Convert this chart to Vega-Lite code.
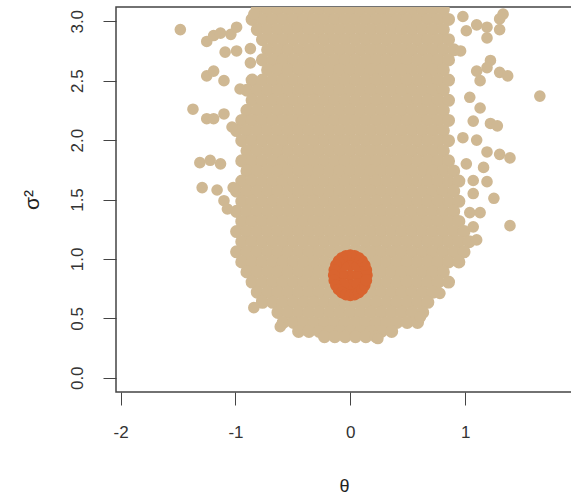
{
"$schema": "https://vega.github.io/schema/vega-lite/v6.json",
"width": 456, "height": 385,
"autosize": "none",
"padding": {"left": 116, "top": 7, "right": 0, "bottom": 107},
"background": "white",
"config": {"view": {"stroke": "#444", "strokeWidth": 1.5}},
"datasets": {
"posterior": [
{"theta":-0.81,"sigma2":3.1},{"theta":-0.72,"sigma2":3.1},{"theta":-0.63,"sigma2":3.1},{"theta":-0.54,"sigma2":3.1},{"theta":-0.45,"sigma2":3.1},{"theta":-0.36,"sigma2":3.1},{"theta":-0.27,"sigma2":3.1},{"theta":-0.18,"sigma2":3.1},{"theta":-0.09,"sigma2":3.1},{"theta":0,"sigma2":3.1},{"theta":0.09,"sigma2":3.1},{"theta":0.18,"sigma2":3.1},{"theta":0.27,"sigma2":3.1},{"theta":0.36,"sigma2":3.1},{"theta":0.45,"sigma2":3.1},{"theta":0.54,"sigma2":3.1},{"theta":0.63,"sigma2":3.1},{"theta":0.72,"sigma2":3.1},{"theta":0.81,"sigma2":3.1},
{"theta":-0.855,"sigma2":3.015},{"theta":-0.765,"sigma2":3.015},{"theta":-0.675,"sigma2":3.015},{"theta":-0.585,"sigma2":3.015},{"theta":-0.495,"sigma2":3.015},{"theta":-0.405,"sigma2":3.015},{"theta":-0.315,"sigma2":3.015},{"theta":-0.225,"sigma2":3.015},{"theta":-0.135,"sigma2":3.015},{"theta":-0.045,"sigma2":3.015},{"theta":0.045,"sigma2":3.015},{"theta":0.135,"sigma2":3.015},{"theta":0.225,"sigma2":3.015},{"theta":0.315,"sigma2":3.015},{"theta":0.405,"sigma2":3.015},{"theta":0.495,"sigma2":3.015},{"theta":0.585,"sigma2":3.015},{"theta":0.675,"sigma2":3.015},{"theta":0.765,"sigma2":3.015},{"theta":0.855,"sigma2":3.015},
{"theta":-0.81,"sigma2":2.93},{"theta":-0.72,"sigma2":2.93},{"theta":-0.63,"sigma2":2.93},{"theta":-0.54,"sigma2":2.93},{"theta":-0.45,"sigma2":2.93},{"theta":-0.36,"sigma2":2.93},{"theta":-0.27,"sigma2":2.93},{"theta":-0.18,"sigma2":2.93},{"theta":-0.09,"sigma2":2.93},{"theta":0,"sigma2":2.93},{"theta":0.09,"sigma2":2.93},{"theta":0.18,"sigma2":2.93},{"theta":0.27,"sigma2":2.93},{"theta":0.36,"sigma2":2.93},{"theta":0.45,"sigma2":2.93},{"theta":0.54,"sigma2":2.93},{"theta":0.63,"sigma2":2.93},{"theta":0.72,"sigma2":2.93},{"theta":0.81,"sigma2":2.93},
{"theta":-0.765,"sigma2":2.845},{"theta":-0.675,"sigma2":2.845},{"theta":-0.585,"sigma2":2.845},{"theta":-0.495,"sigma2":2.845},{"theta":-0.405,"sigma2":2.845},{"theta":-0.315,"sigma2":2.845},{"theta":-0.225,"sigma2":2.845},{"theta":-0.135,"sigma2":2.845},{"theta":-0.045,"sigma2":2.845},{"theta":0.045,"sigma2":2.845},{"theta":0.135,"sigma2":2.845},{"theta":0.225,"sigma2":2.845},{"theta":0.315,"sigma2":2.845},{"theta":0.405,"sigma2":2.845},{"theta":0.495,"sigma2":2.845},{"theta":0.585,"sigma2":2.845},{"theta":0.675,"sigma2":2.845},{"theta":0.765,"sigma2":2.845},{"theta":0.855,"sigma2":2.845},
{"theta":-0.72,"sigma2":2.76},{"theta":-0.63,"sigma2":2.76},{"theta":-0.54,"sigma2":2.76},{"theta":-0.45,"sigma2":2.76},{"theta":-0.36,"sigma2":2.76},{"theta":-0.27,"sigma2":2.76},{"theta":-0.18,"sigma2":2.76},{"theta":-0.09,"sigma2":2.76},{"theta":0,"sigma2":2.76},{"theta":0.09,"sigma2":2.76},{"theta":0.18,"sigma2":2.76},{"theta":0.27,"sigma2":2.76},{"theta":0.36,"sigma2":2.76},{"theta":0.45,"sigma2":2.76},{"theta":0.54,"sigma2":2.76},{"theta":0.63,"sigma2":2.76},{"theta":0.72,"sigma2":2.76},{"theta":0.81,"sigma2":2.76},{"theta":0.9,"sigma2":2.76},
{"theta":-0.765,"sigma2":2.675},{"theta":-0.675,"sigma2":2.675},{"theta":-0.585,"sigma2":2.675},{"theta":-0.495,"sigma2":2.675},{"theta":-0.405,"sigma2":2.675},{"theta":-0.315,"sigma2":2.675},{"theta":-0.225,"sigma2":2.675},{"theta":-0.135,"sigma2":2.675},{"theta":-0.045,"sigma2":2.675},{"theta":0.045,"sigma2":2.675},{"theta":0.135,"sigma2":2.675},{"theta":0.225,"sigma2":2.675},{"theta":0.315,"sigma2":2.675},{"theta":0.405,"sigma2":2.675},{"theta":0.495,"sigma2":2.675},{"theta":0.585,"sigma2":2.675},{"theta":0.675,"sigma2":2.675},{"theta":0.765,"sigma2":2.675},{"theta":0.855,"sigma2":2.675},
{"theta":-0.72,"sigma2":2.59},{"theta":-0.63,"sigma2":2.59},{"theta":-0.54,"sigma2":2.59},{"theta":-0.45,"sigma2":2.59},{"theta":-0.36,"sigma2":2.59},{"theta":-0.27,"sigma2":2.59},{"theta":-0.18,"sigma2":2.59},{"theta":-0.09,"sigma2":2.59},{"theta":0,"sigma2":2.59},{"theta":0.09,"sigma2":2.59},{"theta":0.18,"sigma2":2.59},{"theta":0.27,"sigma2":2.59},{"theta":0.36,"sigma2":2.59},{"theta":0.45,"sigma2":2.59},{"theta":0.54,"sigma2":2.59},{"theta":0.63,"sigma2":2.59},{"theta":0.72,"sigma2":2.59},{"theta":0.81,"sigma2":2.59},
{"theta":-0.855,"sigma2":2.505},{"theta":-0.765,"sigma2":2.505},{"theta":-0.675,"sigma2":2.505},{"theta":-0.585,"sigma2":2.505},{"theta":-0.495,"sigma2":2.505},{"theta":-0.405,"sigma2":2.505},{"theta":-0.315,"sigma2":2.505},{"theta":-0.225,"sigma2":2.505},{"theta":-0.135,"sigma2":2.505},{"theta":-0.045,"sigma2":2.505},{"theta":0.045,"sigma2":2.505},{"theta":0.135,"sigma2":2.505},{"theta":0.225,"sigma2":2.505},{"theta":0.315,"sigma2":2.505},{"theta":0.405,"sigma2":2.505},{"theta":0.495,"sigma2":2.505},{"theta":0.585,"sigma2":2.505},{"theta":0.675,"sigma2":2.505},{"theta":0.765,"sigma2":2.505},{"theta":0.855,"sigma2":2.505},
{"theta":-0.9,"sigma2":2.42},{"theta":-0.81,"sigma2":2.42},{"theta":-0.72,"sigma2":2.42},{"theta":-0.63,"sigma2":2.42},{"theta":-0.54,"sigma2":2.42},{"theta":-0.45,"sigma2":2.42},{"theta":-0.36,"sigma2":2.42},{"theta":-0.27,"sigma2":2.42},{"theta":-0.18,"sigma2":2.42},{"theta":-0.09,"sigma2":2.42},{"theta":0,"sigma2":2.42},{"theta":0.09,"sigma2":2.42},{"theta":0.18,"sigma2":2.42},{"theta":0.27,"sigma2":2.42},{"theta":0.36,"sigma2":2.42},{"theta":0.45,"sigma2":2.42},{"theta":0.54,"sigma2":2.42},{"theta":0.63,"sigma2":2.42},{"theta":0.72,"sigma2":2.42},{"theta":0.81,"sigma2":2.42},
{"theta":-0.855,"sigma2":2.335},{"theta":-0.765,"sigma2":2.335},{"theta":-0.675,"sigma2":2.335},{"theta":-0.585,"sigma2":2.335},{"theta":-0.495,"sigma2":2.335},{"theta":-0.405,"sigma2":2.335},{"theta":-0.315,"sigma2":2.335},{"theta":-0.225,"sigma2":2.335},{"theta":-0.135,"sigma2":2.335},{"theta":-0.045,"sigma2":2.335},{"theta":0.045,"sigma2":2.335},{"theta":0.135,"sigma2":2.335},{"theta":0.225,"sigma2":2.335},{"theta":0.315,"sigma2":2.335},{"theta":0.405,"sigma2":2.335},{"theta":0.495,"sigma2":2.335},{"theta":0.585,"sigma2":2.335},{"theta":0.675,"sigma2":2.335},{"theta":0.765,"sigma2":2.335},{"theta":0.855,"sigma2":2.335},
{"theta":-0.9,"sigma2":2.25},{"theta":-0.81,"sigma2":2.25},{"theta":-0.72,"sigma2":2.25},{"theta":-0.63,"sigma2":2.25},{"theta":-0.54,"sigma2":2.25},{"theta":-0.45,"sigma2":2.25},{"theta":-0.36,"sigma2":2.25},{"theta":-0.27,"sigma2":2.25},{"theta":-0.18,"sigma2":2.25},{"theta":-0.09,"sigma2":2.25},{"theta":0,"sigma2":2.25},{"theta":0.09,"sigma2":2.25},{"theta":0.18,"sigma2":2.25},{"theta":0.27,"sigma2":2.25},{"theta":0.36,"sigma2":2.25},{"theta":0.45,"sigma2":2.25},{"theta":0.54,"sigma2":2.25},{"theta":0.63,"sigma2":2.25},{"theta":0.72,"sigma2":2.25},{"theta":0.81,"sigma2":2.25},
{"theta":-0.945,"sigma2":2.165},{"theta":-0.855,"sigma2":2.165},{"theta":-0.765,"sigma2":2.165},{"theta":-0.675,"sigma2":2.165},{"theta":-0.585,"sigma2":2.165},{"theta":-0.495,"sigma2":2.165},{"theta":-0.405,"sigma2":2.165},{"theta":-0.315,"sigma2":2.165},{"theta":-0.225,"sigma2":2.165},{"theta":-0.135,"sigma2":2.165},{"theta":-0.045,"sigma2":2.165},{"theta":0.045,"sigma2":2.165},{"theta":0.135,"sigma2":2.165},{"theta":0.225,"sigma2":2.165},{"theta":0.315,"sigma2":2.165},{"theta":0.405,"sigma2":2.165},{"theta":0.495,"sigma2":2.165},{"theta":0.585,"sigma2":2.165},{"theta":0.675,"sigma2":2.165},{"theta":0.765,"sigma2":2.165},{"theta":0.855,"sigma2":2.165},
{"theta":-0.99,"sigma2":2.08},{"theta":-0.9,"sigma2":2.08},{"theta":-0.81,"sigma2":2.08},{"theta":-0.72,"sigma2":2.08},{"theta":-0.63,"sigma2":2.08},{"theta":-0.54,"sigma2":2.08},{"theta":-0.45,"sigma2":2.08},{"theta":-0.36,"sigma2":2.08},{"theta":-0.27,"sigma2":2.08},{"theta":-0.18,"sigma2":2.08},{"theta":-0.09,"sigma2":2.08},{"theta":0,"sigma2":2.08},{"theta":0.09,"sigma2":2.08},{"theta":0.18,"sigma2":2.08},{"theta":0.27,"sigma2":2.08},{"theta":0.36,"sigma2":2.08},{"theta":0.45,"sigma2":2.08},{"theta":0.54,"sigma2":2.08},{"theta":0.63,"sigma2":2.08},{"theta":0.72,"sigma2":2.08},{"theta":0.81,"sigma2":2.08},
{"theta":-0.945,"sigma2":1.995},{"theta":-0.855,"sigma2":1.995},{"theta":-0.765,"sigma2":1.995},{"theta":-0.675,"sigma2":1.995},{"theta":-0.585,"sigma2":1.995},{"theta":-0.495,"sigma2":1.995},{"theta":-0.405,"sigma2":1.995},{"theta":-0.315,"sigma2":1.995},{"theta":-0.225,"sigma2":1.995},{"theta":-0.135,"sigma2":1.995},{"theta":-0.045,"sigma2":1.995},{"theta":0.045,"sigma2":1.995},{"theta":0.135,"sigma2":1.995},{"theta":0.225,"sigma2":1.995},{"theta":0.315,"sigma2":1.995},{"theta":0.405,"sigma2":1.995},{"theta":0.495,"sigma2":1.995},{"theta":0.585,"sigma2":1.995},{"theta":0.675,"sigma2":1.995},{"theta":0.765,"sigma2":1.995},{"theta":0.855,"sigma2":1.995},
{"theta":-0.9,"sigma2":1.91},{"theta":-0.81,"sigma2":1.91},{"theta":-0.72,"sigma2":1.91},{"theta":-0.63,"sigma2":1.91},{"theta":-0.54,"sigma2":1.91},{"theta":-0.45,"sigma2":1.91},{"theta":-0.36,"sigma2":1.91},{"theta":-0.27,"sigma2":1.91},{"theta":-0.18,"sigma2":1.91},{"theta":-0.09,"sigma2":1.91},{"theta":0,"sigma2":1.91},{"theta":0.09,"sigma2":1.91},{"theta":0.18,"sigma2":1.91},{"theta":0.27,"sigma2":1.91},{"theta":0.36,"sigma2":1.91},{"theta":0.45,"sigma2":1.91},{"theta":0.54,"sigma2":1.91},{"theta":0.63,"sigma2":1.91},{"theta":0.72,"sigma2":1.91},{"theta":0.81,"sigma2":1.91},
{"theta":-0.945,"sigma2":1.825},{"theta":-0.855,"sigma2":1.825},{"theta":-0.765,"sigma2":1.825},{"theta":-0.675,"sigma2":1.825},{"theta":-0.585,"sigma2":1.825},{"theta":-0.495,"sigma2":1.825},{"theta":-0.405,"sigma2":1.825},{"theta":-0.315,"sigma2":1.825},{"theta":-0.225,"sigma2":1.825},{"theta":-0.135,"sigma2":1.825},{"theta":-0.045,"sigma2":1.825},{"theta":0.045,"sigma2":1.825},{"theta":0.135,"sigma2":1.825},{"theta":0.225,"sigma2":1.825},{"theta":0.315,"sigma2":1.825},{"theta":0.405,"sigma2":1.825},{"theta":0.495,"sigma2":1.825},{"theta":0.585,"sigma2":1.825},{"theta":0.675,"sigma2":1.825},{"theta":0.765,"sigma2":1.825},{"theta":0.855,"sigma2":1.825},
{"theta":-0.9,"sigma2":1.74},{"theta":-0.81,"sigma2":1.74},{"theta":-0.72,"sigma2":1.74},{"theta":-0.63,"sigma2":1.74},{"theta":-0.54,"sigma2":1.74},{"theta":-0.45,"sigma2":1.74},{"theta":-0.36,"sigma2":1.74},{"theta":-0.27,"sigma2":1.74},{"theta":-0.18,"sigma2":1.74},{"theta":-0.09,"sigma2":1.74},{"theta":0,"sigma2":1.74},{"theta":0.09,"sigma2":1.74},{"theta":0.18,"sigma2":1.74},{"theta":0.27,"sigma2":1.74},{"theta":0.36,"sigma2":1.74},{"theta":0.45,"sigma2":1.74},{"theta":0.54,"sigma2":1.74},{"theta":0.63,"sigma2":1.74},{"theta":0.72,"sigma2":1.74},{"theta":0.81,"sigma2":1.74},{"theta":0.9,"sigma2":1.74},
{"theta":-0.945,"sigma2":1.655},{"theta":-0.855,"sigma2":1.655},{"theta":-0.765,"sigma2":1.655},{"theta":-0.675,"sigma2":1.655},{"theta":-0.585,"sigma2":1.655},{"theta":-0.495,"sigma2":1.655},{"theta":-0.405,"sigma2":1.655},{"theta":-0.315,"sigma2":1.655},{"theta":-0.225,"sigma2":1.655},{"theta":-0.135,"sigma2":1.655},{"theta":-0.045,"sigma2":1.655},{"theta":0.045,"sigma2":1.655},{"theta":0.135,"sigma2":1.655},{"theta":0.225,"sigma2":1.655},{"theta":0.315,"sigma2":1.655},{"theta":0.405,"sigma2":1.655},{"theta":0.495,"sigma2":1.655},{"theta":0.585,"sigma2":1.655},{"theta":0.675,"sigma2":1.655},{"theta":0.765,"sigma2":1.655},{"theta":0.855,"sigma2":1.655},{"theta":0.945,"sigma2":1.655},
{"theta":-0.99,"sigma2":1.57},{"theta":-0.9,"sigma2":1.57},{"theta":-0.81,"sigma2":1.57},{"theta":-0.72,"sigma2":1.57},{"theta":-0.63,"sigma2":1.57},{"theta":-0.54,"sigma2":1.57},{"theta":-0.45,"sigma2":1.57},{"theta":-0.36,"sigma2":1.57},{"theta":-0.27,"sigma2":1.57},{"theta":-0.18,"sigma2":1.57},{"theta":-0.09,"sigma2":1.57},{"theta":0,"sigma2":1.57},{"theta":0.09,"sigma2":1.57},{"theta":0.18,"sigma2":1.57},{"theta":0.27,"sigma2":1.57},{"theta":0.36,"sigma2":1.57},{"theta":0.45,"sigma2":1.57},{"theta":0.54,"sigma2":1.57},{"theta":0.63,"sigma2":1.57},{"theta":0.72,"sigma2":1.57},{"theta":0.81,"sigma2":1.57},{"theta":0.9,"sigma2":1.57},
{"theta":-0.945,"sigma2":1.485},{"theta":-0.855,"sigma2":1.485},{"theta":-0.765,"sigma2":1.485},{"theta":-0.675,"sigma2":1.485},{"theta":-0.585,"sigma2":1.485},{"theta":-0.495,"sigma2":1.485},{"theta":-0.405,"sigma2":1.485},{"theta":-0.315,"sigma2":1.485},{"theta":-0.225,"sigma2":1.485},{"theta":-0.135,"sigma2":1.485},{"theta":-0.045,"sigma2":1.485},{"theta":0.045,"sigma2":1.485},{"theta":0.135,"sigma2":1.485},{"theta":0.225,"sigma2":1.485},{"theta":0.315,"sigma2":1.485},{"theta":0.405,"sigma2":1.485},{"theta":0.495,"sigma2":1.485},{"theta":0.585,"sigma2":1.485},{"theta":0.675,"sigma2":1.485},{"theta":0.765,"sigma2":1.485},{"theta":0.855,"sigma2":1.485},{"theta":0.945,"sigma2":1.485},
{"theta":-0.99,"sigma2":1.4},{"theta":-0.9,"sigma2":1.4},{"theta":-0.81,"sigma2":1.4},{"theta":-0.72,"sigma2":1.4},{"theta":-0.63,"sigma2":1.4},{"theta":-0.54,"sigma2":1.4},{"theta":-0.45,"sigma2":1.4},{"theta":-0.36,"sigma2":1.4},{"theta":-0.27,"sigma2":1.4},{"theta":-0.18,"sigma2":1.4},{"theta":-0.09,"sigma2":1.4},{"theta":0,"sigma2":1.4},{"theta":0.09,"sigma2":1.4},{"theta":0.18,"sigma2":1.4},{"theta":0.27,"sigma2":1.4},{"theta":0.36,"sigma2":1.4},{"theta":0.45,"sigma2":1.4},{"theta":0.54,"sigma2":1.4},{"theta":0.63,"sigma2":1.4},{"theta":0.72,"sigma2":1.4},{"theta":0.81,"sigma2":1.4},{"theta":0.9,"sigma2":1.4},
{"theta":-0.945,"sigma2":1.315},{"theta":-0.855,"sigma2":1.315},{"theta":-0.765,"sigma2":1.315},{"theta":-0.675,"sigma2":1.315},{"theta":-0.585,"sigma2":1.315},{"theta":-0.495,"sigma2":1.315},{"theta":-0.405,"sigma2":1.315},{"theta":-0.315,"sigma2":1.315},{"theta":-0.225,"sigma2":1.315},{"theta":-0.135,"sigma2":1.315},{"theta":-0.045,"sigma2":1.315},{"theta":0.045,"sigma2":1.315},{"theta":0.135,"sigma2":1.315},{"theta":0.225,"sigma2":1.315},{"theta":0.315,"sigma2":1.315},{"theta":0.405,"sigma2":1.315},{"theta":0.495,"sigma2":1.315},{"theta":0.585,"sigma2":1.315},{"theta":0.675,"sigma2":1.315},{"theta":0.765,"sigma2":1.315},{"theta":0.855,"sigma2":1.315},{"theta":0.945,"sigma2":1.315},
{"theta":-0.99,"sigma2":1.23},{"theta":-0.9,"sigma2":1.23},{"theta":-0.81,"sigma2":1.23},{"theta":-0.72,"sigma2":1.23},{"theta":-0.63,"sigma2":1.23},{"theta":-0.54,"sigma2":1.23},{"theta":-0.45,"sigma2":1.23},{"theta":-0.36,"sigma2":1.23},{"theta":-0.27,"sigma2":1.23},{"theta":-0.18,"sigma2":1.23},{"theta":-0.09,"sigma2":1.23},{"theta":0,"sigma2":1.23},{"theta":0.09,"sigma2":1.23},{"theta":0.18,"sigma2":1.23},{"theta":0.27,"sigma2":1.23},{"theta":0.36,"sigma2":1.23},{"theta":0.45,"sigma2":1.23},{"theta":0.54,"sigma2":1.23},{"theta":0.63,"sigma2":1.23},{"theta":0.72,"sigma2":1.23},{"theta":0.81,"sigma2":1.23},{"theta":0.9,"sigma2":1.23},{"theta":0.99,"sigma2":1.23},
{"theta":-0.945,"sigma2":1.145},{"theta":-0.855,"sigma2":1.145},{"theta":-0.765,"sigma2":1.145},{"theta":-0.675,"sigma2":1.145},{"theta":-0.585,"sigma2":1.145},{"theta":-0.495,"sigma2":1.145},{"theta":-0.405,"sigma2":1.145},{"theta":-0.315,"sigma2":1.145},{"theta":-0.225,"sigma2":1.145},{"theta":-0.135,"sigma2":1.145},{"theta":-0.045,"sigma2":1.145},{"theta":0.045,"sigma2":1.145},{"theta":0.135,"sigma2":1.145},{"theta":0.225,"sigma2":1.145},{"theta":0.315,"sigma2":1.145},{"theta":0.405,"sigma2":1.145},{"theta":0.495,"sigma2":1.145},{"theta":0.585,"sigma2":1.145},{"theta":0.675,"sigma2":1.145},{"theta":0.765,"sigma2":1.145},{"theta":0.855,"sigma2":1.145},{"theta":0.945,"sigma2":1.145},{"theta":1.035,"sigma2":1.145},
{"theta":-0.99,"sigma2":1.06},{"theta":-0.9,"sigma2":1.06},{"theta":-0.81,"sigma2":1.06},{"theta":-0.72,"sigma2":1.06},{"theta":-0.63,"sigma2":1.06},{"theta":-0.54,"sigma2":1.06},{"theta":-0.45,"sigma2":1.06},{"theta":-0.36,"sigma2":1.06},{"theta":-0.27,"sigma2":1.06},{"theta":-0.18,"sigma2":1.06},{"theta":-0.09,"sigma2":1.06},{"theta":0,"sigma2":1.06},{"theta":0.09,"sigma2":1.06},{"theta":0.18,"sigma2":1.06},{"theta":0.27,"sigma2":1.06},{"theta":0.36,"sigma2":1.06},{"theta":0.45,"sigma2":1.06},{"theta":0.54,"sigma2":1.06},{"theta":0.63,"sigma2":1.06},{"theta":0.72,"sigma2":1.06},{"theta":0.81,"sigma2":1.06},{"theta":0.9,"sigma2":1.06},{"theta":0.99,"sigma2":1.06},
{"theta":-0.945,"sigma2":0.975},{"theta":-0.855,"sigma2":0.975},{"theta":-0.765,"sigma2":0.975},{"theta":-0.675,"sigma2":0.975},{"theta":-0.585,"sigma2":0.975},{"theta":-0.495,"sigma2":0.975},{"theta":-0.405,"sigma2":0.975},{"theta":-0.315,"sigma2":0.975},{"theta":-0.225,"sigma2":0.975},{"theta":-0.135,"sigma2":0.975},{"theta":-0.045,"sigma2":0.975},{"theta":0.045,"sigma2":0.975},{"theta":0.135,"sigma2":0.975},{"theta":0.225,"sigma2":0.975},{"theta":0.315,"sigma2":0.975},{"theta":0.405,"sigma2":0.975},{"theta":0.495,"sigma2":0.975},{"theta":0.585,"sigma2":0.975},{"theta":0.675,"sigma2":0.975},{"theta":0.765,"sigma2":0.975},{"theta":0.855,"sigma2":0.975},{"theta":0.945,"sigma2":0.975},
{"theta":-0.9,"sigma2":0.89},{"theta":-0.81,"sigma2":0.89},{"theta":-0.72,"sigma2":0.89},{"theta":-0.63,"sigma2":0.89},{"theta":-0.54,"sigma2":0.89},{"theta":-0.45,"sigma2":0.89},{"theta":-0.36,"sigma2":0.89},{"theta":-0.27,"sigma2":0.89},{"theta":-0.18,"sigma2":0.89},{"theta":-0.09,"sigma2":0.89},{"theta":0,"sigma2":0.89},{"theta":0.09,"sigma2":0.89},{"theta":0.18,"sigma2":0.89},{"theta":0.27,"sigma2":0.89},{"theta":0.36,"sigma2":0.89},{"theta":0.45,"sigma2":0.89},{"theta":0.54,"sigma2":0.89},{"theta":0.63,"sigma2":0.89},{"theta":0.72,"sigma2":0.89},{"theta":0.81,"sigma2":0.89},
{"theta":-0.855,"sigma2":0.805},{"theta":-0.765,"sigma2":0.805},{"theta":-0.675,"sigma2":0.805},{"theta":-0.585,"sigma2":0.805},{"theta":-0.495,"sigma2":0.805},{"theta":-0.405,"sigma2":0.805},{"theta":-0.315,"sigma2":0.805},{"theta":-0.225,"sigma2":0.805},{"theta":-0.135,"sigma2":0.805},{"theta":-0.045,"sigma2":0.805},{"theta":0.045,"sigma2":0.805},{"theta":0.135,"sigma2":0.805},{"theta":0.225,"sigma2":0.805},{"theta":0.315,"sigma2":0.805},{"theta":0.405,"sigma2":0.805},{"theta":0.495,"sigma2":0.805},{"theta":0.585,"sigma2":0.805},{"theta":0.675,"sigma2":0.805},{"theta":0.765,"sigma2":0.805},{"theta":0.855,"sigma2":0.805},
{"theta":-0.81,"sigma2":0.72},{"theta":-0.72,"sigma2":0.72},{"theta":-0.63,"sigma2":0.72},{"theta":-0.54,"sigma2":0.72},{"theta":-0.45,"sigma2":0.72},{"theta":-0.36,"sigma2":0.72},{"theta":-0.27,"sigma2":0.72},{"theta":-0.18,"sigma2":0.72},{"theta":-0.09,"sigma2":0.72},{"theta":0,"sigma2":0.72},{"theta":0.09,"sigma2":0.72},{"theta":0.18,"sigma2":0.72},{"theta":0.27,"sigma2":0.72},{"theta":0.36,"sigma2":0.72},{"theta":0.45,"sigma2":0.72},{"theta":0.54,"sigma2":0.72},{"theta":0.63,"sigma2":0.72},{"theta":0.72,"sigma2":0.72},
{"theta":-0.765,"sigma2":0.635},{"theta":-0.675,"sigma2":0.635},{"theta":-0.585,"sigma2":0.635},{"theta":-0.495,"sigma2":0.635},{"theta":-0.405,"sigma2":0.635},{"theta":-0.315,"sigma2":0.635},{"theta":-0.225,"sigma2":0.635},{"theta":-0.135,"sigma2":0.635},{"theta":-0.045,"sigma2":0.635},{"theta":0.045,"sigma2":0.635},{"theta":0.135,"sigma2":0.635},{"theta":0.225,"sigma2":0.635},{"theta":0.315,"sigma2":0.635},{"theta":0.405,"sigma2":0.635},{"theta":0.495,"sigma2":0.635},{"theta":0.585,"sigma2":0.635},{"theta":0.675,"sigma2":0.635},
{"theta":-0.63,"sigma2":0.55},{"theta":-0.54,"sigma2":0.55},{"theta":-0.45,"sigma2":0.55},{"theta":-0.36,"sigma2":0.55},{"theta":-0.27,"sigma2":0.55},{"theta":-0.18,"sigma2":0.55},{"theta":-0.09,"sigma2":0.55},{"theta":0,"sigma2":0.55},{"theta":0.09,"sigma2":0.55},{"theta":0.18,"sigma2":0.55},{"theta":0.27,"sigma2":0.55},{"theta":0.36,"sigma2":0.55},{"theta":0.45,"sigma2":0.55},{"theta":0.54,"sigma2":0.55},{"theta":0.63,"sigma2":0.55},
{"theta":-0.585,"sigma2":0.465},{"theta":-0.495,"sigma2":0.465},{"theta":-0.405,"sigma2":0.465},{"theta":-0.315,"sigma2":0.465},{"theta":-0.225,"sigma2":0.465},{"theta":-0.135,"sigma2":0.465},{"theta":-0.045,"sigma2":0.465},{"theta":0.045,"sigma2":0.465},{"theta":0.135,"sigma2":0.465},{"theta":0.225,"sigma2":0.465},{"theta":0.315,"sigma2":0.465},{"theta":0.405,"sigma2":0.465},{"theta":0.495,"sigma2":0.465},{"theta":0.585,"sigma2":0.465},
{"theta":-0.45,"sigma2":0.39},{"theta":-0.36,"sigma2":0.39},{"theta":-0.27,"sigma2":0.39},{"theta":-0.18,"sigma2":0.39},{"theta":-0.09,"sigma2":0.39},{"theta":0,"sigma2":0.39},{"theta":0.09,"sigma2":0.39},{"theta":0.18,"sigma2":0.39},{"theta":0.27,"sigma2":0.39},{"theta":0.36,"sigma2":0.39},
{"theta":-0.225,"sigma2":0.345},{"theta":-0.135,"sigma2":0.345},{"theta":-0.045,"sigma2":0.345},{"theta":0.045,"sigma2":0.345},{"theta":0.135,"sigma2":0.345},{"theta":0.225,"sigma2":0.345}
],
"tail": [
{"theta":0.24,"sigma2":0.33},
{"theta":-1.48,"sigma2":2.93},{"theta":-1.37,"sigma2":2.26},{"theta":-1.31,"sigma2":1.81},{"theta":-1.25,"sigma2":2.83},{"theta":-1.19,"sigma2":2.88},{"theta":-1.13,"sigma2":2.9},{"theta":-1.04,"sigma2":2.89},{"theta":-0.99,"sigma2":2.95},{"theta":-0.84,"sigma2":3.06},
{"theta":-1.09,"sigma2":2.74},{"theta":-0.99,"sigma2":2.75},{"theta":-0.87,"sigma2":2.77},{"theta":-0.87,"sigma2":2.65},{"theta":-1.25,"sigma2":2.54},{"theta":-1.19,"sigma2":2.58},{"theta":-1.1,"sigma2":2.5},{"theta":-0.96,"sigma2":2.43},
{"theta":-1.25,"sigma2":2.18},{"theta":-1.19,"sigma2":2.18},{"theta":-1.1,"sigma2":2.22},{"theta":-1.03,"sigma2":2.11},{"theta":-1.22,"sigma2":1.83},{"theta":-1.13,"sigma2":1.8},{"theta":-1.16,"sigma2":1.58},{"theta":-1.1,"sigma2":1.49},{"theta":-1.07,"sigma2":1.42},{"theta":-1.02,"sigma2":1.6},{"theta":-1.29,"sigma2":1.6},
{"theta":-0.84,"sigma2":0.59},{"theta":-0.77,"sigma2":0.65},{"theta":-0.61,"sigma2":0.43},{"theta":0.78,"sigma2":0.71},{"theta":0.61,"sigma2":0.51},
{"theta":0.98,"sigma2":3.04},{"theta":1.1,"sigma2":2.97},{"theta":1.19,"sigma2":2.95},{"theta":1.3,"sigma2":3.02},{"theta":1.33,"sigma2":3.06},{"theta":1.3,"sigma2":2.93},{"theta":1.19,"sigma2":2.86},{"theta":1.01,"sigma2":2.92},{"theta":0.96,"sigma2":2.75},
{"theta":1.22,"sigma2":2.67},{"theta":1.1,"sigma2":2.58},{"theta":1.19,"sigma2":2.61},{"theta":1.3,"sigma2":2.57},{"theta":1.37,"sigma2":2.54},{"theta":1.13,"sigma2":2.5},{"theta":1.65,"sigma2":2.37},{"theta":1.04,"sigma2":2.36},{"theta":1.13,"sigma2":2.27},
{"theta":1.22,"sigma2":2.14},{"theta":1.28,"sigma2":2.12},{"theta":1.07,"sigma2":2.16},{"theta":0.98,"sigma2":2.02},{"theta":1.1,"sigma2":2.0},{"theta":1.19,"sigma2":1.9},{"theta":1.3,"sigma2":1.88},{"theta":1.39,"sigma2":1.85},{"theta":1.01,"sigma2":1.8},{"theta":1.16,"sigma2":1.77},
{"theta":1.07,"sigma2":1.66},{"theta":1.19,"sigma2":1.65},{"theta":1.07,"sigma2":1.55},{"theta":1.25,"sigma2":1.51},{"theta":1.04,"sigma2":1.39},{"theta":1.13,"sigma2":1.39},{"theta":1.39,"sigma2":1.28},{"theta":1.07,"sigma2":1.27},{"theta":1.1,"sigma2":1.16}
],
"blob": [
{"theta":0,"sigma2":0.863},{"theta":-0.07,"sigma2":0.863},{"theta":0.07,"sigma2":0.863},{"theta":0,"sigma2":0.78},{"theta":0,"sigma2":0.95},{"theta":-0.06,"sigma2":0.79},{"theta":0.06,"sigma2":0.79},{"theta":-0.06,"sigma2":0.94},{"theta":0.06,"sigma2":0.94},
{"theta":0.145,"sigma2":0.863},{"theta":0.14,"sigma2":0.907},{"theta":0.126,"sigma2":0.948},{"theta":0.103,"sigma2":0.983},{"theta":0.073,"sigma2":1.01},{"theta":0.038,"sigma2":1.027},{"theta":0,"sigma2":1.033},
{"theta":-0.038,"sigma2":1.027},{"theta":-0.073,"sigma2":1.01},{"theta":-0.103,"sigma2":0.983},{"theta":-0.126,"sigma2":0.948},{"theta":-0.14,"sigma2":0.907},{"theta":-0.145,"sigma2":0.863},
{"theta":-0.14,"sigma2":0.819},{"theta":-0.126,"sigma2":0.778},{"theta":-0.103,"sigma2":0.743},{"theta":-0.073,"sigma2":0.716},{"theta":-0.038,"sigma2":0.699},{"theta":0,"sigma2":0.693},
{"theta":0.038,"sigma2":0.699},{"theta":0.073,"sigma2":0.716},{"theta":0.103,"sigma2":0.743},{"theta":0.126,"sigma2":0.778},{"theta":0.14,"sigma2":0.819}
]
},
"encoding": {
"x": {"field": "theta", "type": "quantitative",
 "scale": {"domain": [-2.04, 1.93], "nice": false, "zero": false},
 "axis": {"values": [-2, -1, 0, 1], "title": "θ", "grid": false, "domain": false,
  "labelExpr": "datum.value < 0 ? '-' + abs(datum.value) : '' + datum.value",
  "tickColor": "#444", "tickSize": 13, "tickWidth": 1,
  "labelFont": "Liberation Sans", "labelFontSize": 17, "labelColor": "#333", "labelPadding": 19,
  "labelFlush": false, "labelOverlap": false,
  "titleFont": "Liberation Sans", "titleFontSize": 18, "titleFontWeight": "normal", "titleColor": "#222", "titlePadding": 37}},
"y": {"field": "sigma2", "type": "quantitative",
 "scale": {"domain": [-0.12, 3.12], "nice": false, "zero": false},
 "axis": {"values": [0, 0.5, 1, 1.5, 2, 2.5, 3], "format": ".1f", "title": "σ²", "grid": false, "domain": false,
  "tickColor": "#444", "tickSize": 13, "tickWidth": 1,
  "labelFont": "Liberation Sans", "labelFontSize": 17, "labelColor": "#333", "labelPadding": 17,
  "labelAngle": 270, "labelAlign": "center", "labelBaseline": "bottom",
  "labelFlush": false, "labelOverlap": false,
  "titleFont": "Liberation Sans", "titleFontSize": 21, "titleFontWeight": "normal", "titleColor": "#222", "titlePadding": 26, "titleAngle": 270}}
},
"layer": [
{"data": {"name": "posterior"}, "mark": {"type": "point", "filled": true, "shape": "circle", "size": 170, "color": "#CFB893", "opacity": 1, "strokeWidth": 0, "clip": true}},
{"data": {"name": "tail"}, "mark": {"type": "point", "filled": true, "shape": "circle", "size": 135, "color": "#CFB893", "opacity": 1, "strokeWidth": 0, "clip": true}},
{"data": {"name": "blob"}, "mark": {"type": "point", "filled": true, "shape": "circle", "size": 135, "color": "#D9642F", "opacity": 1, "strokeWidth": 0, "clip": true}}
]
}
